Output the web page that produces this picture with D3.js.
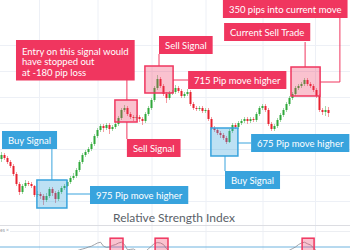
<!DOCTYPE html>
<html>
<head>
<meta charset="utf-8">
<script src="https://cdn.jsdelivr.net/npm/d3@7"></script>
<style>
  body { margin: 0; background: #fff; }
  svg { display: block; font-family: Lato, sans-serif; }
</style>
</head>
<body>
<svg id="chart" width="350" height="250"></svg>
<script>
// price data in pips (1.1100 -> 11100), one candle per bar
const opens = [11060,11100,11070,11030,10990,10910,10810,10730,10790,10820,
  10810,10790,10700,10710,10690,10650,10690,10760,10720,10660,
  10730,10770,10790,10830,10870,10890,10950,11030,11100,11130,
  11160,11210,11290,11350,11390,11370,11400,11360,11380,11410,
  11470,11550,11570,11510,11480,11470,11480,11460,11440,11510,
  11570,11650,11770,11860,11790,11710,11670,11720,11730,11770,
  11740,11690,11710,11730,11610,11570,11560,11570,11540,11550,
  11460,11370,11350,11320,11300,11270,11230,11340,11400,11380,
  11420,11440,11460,11440,11460,11450,11510,11570,11590,11550,
  11410,11360,11390,11450,11500,11550,11610,11670,11710,11770,
  11790,11810,11850,11810,11790,11750,11690,11550,11530,11550];
const closes = [11100,11070,11030,10990,10910,10810,10730,10790,10820,10810,
  10790,10700,10710,10690,10650,10690,10760,10720,10660,10730,
  10770,10790,10830,10870,10890,10950,11030,11100,11130,11160,
  11210,11290,11350,11390,11370,11400,11360,11380,11410,11470,
  11550,11570,11510,11480,11470,11480,11460,11440,11510,11570,
  11650,11770,11860,11790,11710,11670,11720,11730,11770,11740,
  11690,11710,11730,11610,11570,11560,11570,11540,11550,11460,
  11370,11350,11320,11300,11270,11230,11340,11400,11380,11420,
  11440,11460,11440,11460,11450,11510,11570,11590,11550,11410,
  11360,11390,11450,11500,11550,11610,11670,11710,11770,11790,
  11810,11850,11810,11790,11750,11690,11550,11530,11550,11520];
const highs = [11130,11120,11090,11050,11010,10930,10830,10810,10850,10840,
  10830,10800,10740,10730,10710,10720,10780,10780,10740,10750,
  10790,10810,10850,10890,10920,10970,11050,11120,11150,11180,
  11230,11310,11370,11410,11410,11420,11420,11400,11430,11490,
  11570,11600,11590,11530,11500,11500,11500,11480,11530,11590,
  11670,11790,11900,11880,11810,11730,11740,11750,11800,11790,
  11760,11730,11760,11750,11630,11590,11590,11590,11570,11570,
  11480,11390,11370,11340,11320,11290,11360,11420,11420,11440,
  11460,11480,11480,11480,11480,11530,11590,11610,11610,11570,
  11430,11410,11470,11520,11570,11630,11690,11730,11790,11810,
  11830,11870,11870,11830,11810,11770,11710,11570,11590,11580];
const lows = [11030,11050,11010,10970,10890,10790,10700,10710,10770,10790,
  10770,10680,10680,10660,10600,10630,10670,10690,10620,10640,
  10710,10750,10780,10810,10850,10870,10930,11010,11080,11110,
  11140,11190,11270,11330,11330,11350,11310,11340,11360,11390,
  11450,11530,11490,11460,11440,11450,11430,11400,11420,11490,
  11550,11630,11750,11770,11690,11620,11650,11700,11710,11720,
  11670,11670,11690,11590,11550,11540,11540,11520,11520,11440,
  11350,11330,11300,11270,11250,11210,11220,11320,11360,11360,
  11400,11420,11410,11420,11430,11430,11490,11550,11530,11390,
  11340,11340,11370,11430,11480,11530,11590,11650,11690,11750,
  11770,11790,11790,11770,11730,11670,11530,11500,11490,11480];

// RSI (14) for each candle
const rsi = [45,42,40,38,35,30,28,35,38,37,36,30,32,31,28,35,42,40,36,44,48,50,54,56,58,
  60,63,65,67,70,72,76,80,82,72,69,70,74,76,80,82,76,63,64,65,60,52,48,58,66,72,79,81,80,76,66,60,
  58,57,55,52,54,56,50,46,45,46,44,45,40,35,33,31,30,28,26,38,44,42,46,48,50,48,50,49,54,57,58,52,45,40,43,48,52,55,
  58,62,66,70,76,80,82,78,75,68,60,45,42,44,40];

const gridPrices = [12200, 11940, 11680, 11420, 11160, 10900, 10640];
const gridIdx = [12.5, 32, 50, 68, 87, 104.5];

// highlighted signal zones: candle index range, price range
const zones = [
  {kind: 'buy',  from: 11.8, to: 21.8,  top: 10850, bottom: 10570},
  {kind: 'sell', from: 37.8, to: 45.2,  top: 11650, bottom: 11430},
  {kind: 'sell', from: 47.8, to: 57.2,  top: 11990, bottom: 11720},
  {kind: 'buy',  from: 69.8, to: 78.8,  top: 11370, bottom: 11090},
  {kind: 'sell', from: 96.5, to: 106.2, top: 11980, bottom: 11690}
];

const labels = [
  {kind: 'sell', at: 4.83, price: 12250, lines: ['Entry on this signal would', 'have stopped out', 'at -180 pip loss']},
  {kind: 'sell', at: 52.5, price: 12290, lines: ['Sell Signal']},
  {kind: 'sell', at: 62.2, price: 11940, lines: ['715 Pip move higher']},
  {kind: 'sell', at: 41.8, price: 11260, lines: ['Sell Signal']},
  {kind: 'buy',  at: 0.17, price: 11340, lines: ['Buy Signal']},
  {kind: 'buy',  at: 29.5, price: 10790, lines: ['975 Pip move higher']},
  {kind: 'buy',  at: 83.2, price: 11310, lines: ['675 Pip move higher']},
  {kind: 'buy',  at: 74.5, price: 10940, lines: ['Buy Signal']},
  {kind: 'sell', at: 74.2, price: 12420, lines: ['Current Sell Trade']},
  {kind: 'sell', at: 73.8, price: 12650, lines: ['350 pips into current move']}
];

// leader lines from labels to zones
const leaders = [
  {kind: 'sell', pts: [[41.8, 11850], [41.8, 11650]]},
  {kind: 'sell', pts: [[52.5, 12110], [52.5, 11990]]},
  {kind: 'sell', pts: [[57.2, 11850], [62.2, 11850]]},
  {kind: 'sell', pts: [[41.8, 11430], [41.8, 11260]]},
  {kind: 'buy',  pts: [[16.8, 11170], [16.8, 10850]]},
  {kind: 'buy',  pts: [[21.8, 10710], [29.5, 10710]]},
  {kind: 'buy',  pts: [[78.8, 11220], [83.2, 11220]]},
  {kind: 'buy',  pts: [[74.5, 11090], [74.5, 10940]]},
  {kind: 'sell', pts: [[101.2, 12230], [101.2, 11980]]},
  {kind: 'sell', pts: [[112.8, 12480], [112.8, 11830], [106.2, 11830]]}
];

const rsiZones = [
  {from: 36.2, to: 40.5, top: 92},
  {from: 51.2, to: 55.5, top: 92},
  {from: 100.2, to: 104.2, top: 92}
];

const width = 350;
const height = 250;
const red = '#f0365f';
const blue = '#38a3dd';
const up = '#2fa83a';
const down = '#e8212f';
const kindColor = k => k === 'sell' ? red : blue;

const svg = d3.select('#chart');

const xScale = d3.scaleLinear().domain([0, closes.length - 1]).range([1.5, 328.5]);
const yScale = d3.scaleLinear().domain([10400, 12650]).range([225, 0]);
const rsiScale = d3.scaleLinear().domain([30, 100]).range([263, 235]);

// grid
const yGrid = d3.axisLeft(yScale).tickValues(gridPrices).tickSize(-width).tickFormat('');
svg.append('g').attr('class', 'grid').call(yGrid)
  .call(g => g.select('.domain').remove());

const xGrid = d3.axisBottom(xScale).tickValues(gridIdx).tickSize(-height).tickFormat('');
svg.append('g').attr('class', 'grid')
  .attr('transform', `translate(0,${height})`)
  .call(xGrid)
  .call(g => g.select('.domain').remove());

svg.selectAll('.grid line').attr('stroke', '#edf0f6');

// candles
const candles = closes.map((c, i) => ({i, o: opens[i], h: highs[i], l: lows[i], c}));
const candleColor = d => d.c >= d.o ? up : down;

const cg = svg.append('g').selectAll('g').data(candles).join('g')
  .attr('transform', d => `translate(${xScale(d.i)},0)`);

cg.append('line')
  .attr('y1', d => yScale(d.h))
  .attr('y2', d => yScale(d.l))
  .attr('stroke', candleColor)
  .attr('stroke-opacity', 0.45)
  .attr('stroke-width', 1);

cg.append('rect')
  .attr('x', -1)
  .attr('width', 2)
  .attr('y', d => yScale(Math.max(d.o, d.c)))
  .attr('height', d => Math.max(1, Math.abs(yScale(d.o) - yScale(d.c))))
  .attr('fill', candleColor);

// zones
svg.append('g').selectAll('rect').data(zones).join('rect')
  .attr('x', d => xScale(d.from))
  .attr('y', d => yScale(d.top))
  .attr('width', d => xScale(d.to) - xScale(d.from))
  .attr('height', d => yScale(d.bottom) - yScale(d.top))
  .attr('fill', d => kindColor(d.kind))
  .attr('fill-opacity', d => d.kind === 'sell' ? 0.3 : 0.33)
  .attr('stroke', d => kindColor(d.kind))
  .attr('stroke-width', 1.5);

// leader lines
const leaderLine = d3.line().x(d => xScale(d[0])).y(d => yScale(d[1]));
svg.append('g').selectAll('path').data(leaders).join('path')
  .attr('d', d => leaderLine(d.pts))
  .attr('fill', 'none')
  .attr('stroke', d => kindColor(d.kind))
  .attr('stroke-width', 1);

// label boxes
const lg = svg.append('g').selectAll('g').data(labels).join('g')
  .attr('transform', d => `translate(${xScale(d.at)},${yScale(d.price)})`);

lg.each(function(d) {
  const g = d3.select(this);
  const n = d.lines.length;
  const first = n > 1 ? 14.5 : 12.5;
  const texts = g.selectAll('text').data(d.lines).join('text')
    .attr('x', 6)
    .attr('y', (s, k) => first + k * 10.5)
    .attr('fill', '#fff')
    .attr('font-size', 9.5)
    .text(s => s);
  const w = d3.max(texts.nodes(), t => t.getComputedTextLength()) + 12;
  g.insert('rect', 'text')
    .attr('width', w)
    .attr('height', n * 10.5 + (n > 1 ? 9 : 7.5))
    .attr('fill', kindColor(d.kind));
});

// RSI panel
svg.append('line')
  .attr('x1', 0).attr('x2', width)
  .attr('y1', 225.5).attr('y2', 225.5)
  .attr('stroke', '#dcdde2');

svg.append('line')
  .attr('x1', 10).attr('x2', width)
  .attr('y1', 231.5).attr('y2', 231.5)
  .attr('stroke', '#eceef2');

svg.append('text')
  .attr('x', 174)
  .attr('y', 222)
  .attr('text-anchor', 'middle')
  .attr('font-size', 12)
  .attr('fill', '#5a5f68')
  .text('Relative Strength Index');

svg.append('text')
  .attr('x', 0)
  .attr('y', 232)
  .attr('font-size', 5)
  .attr('fill', '#9a9ea6')
  .text('es ×');

svg.append('defs').append('clipPath').attr('id', 'rsiClip')
  .append('rect').attr('x', 0).attr('y', 232).attr('width', width).attr('height', 30);

const rsiG = svg.append('g').attr('clip-path', 'url(#rsiClip)');

rsiG.append('line')
  .attr('x1', 0).attr('x2', width)
  .attr('y1', rsiScale(70)).attr('y2', rsiScale(70))
  .attr('stroke', '#6fb3df')
  .attr('stroke-width', 1);

rsiG.append('path')
  .datum(rsi)
  .attr('d', d3.line().x((d, i) => xScale(i)).y(d => rsiScale(d)))
  .attr('fill', 'none')
  .attr('stroke', '#8a8d93')
  .attr('stroke-width', 0.8);

rsiG.selectAll('.rsiZone').data(rsiZones).join('rect')
  .attr('class', 'rsiZone')
  .attr('x', d => xScale(d.from))
  .attr('y', d => rsiScale(d.top))
  .attr('width', d => xScale(d.to) - xScale(d.from))
  .attr('height', 30)
  .attr('fill', red)
  .attr('fill-opacity', 0.3)
  .attr('stroke', red)
  .attr('stroke-width', 1.5);
</script>
</body>
</html>
